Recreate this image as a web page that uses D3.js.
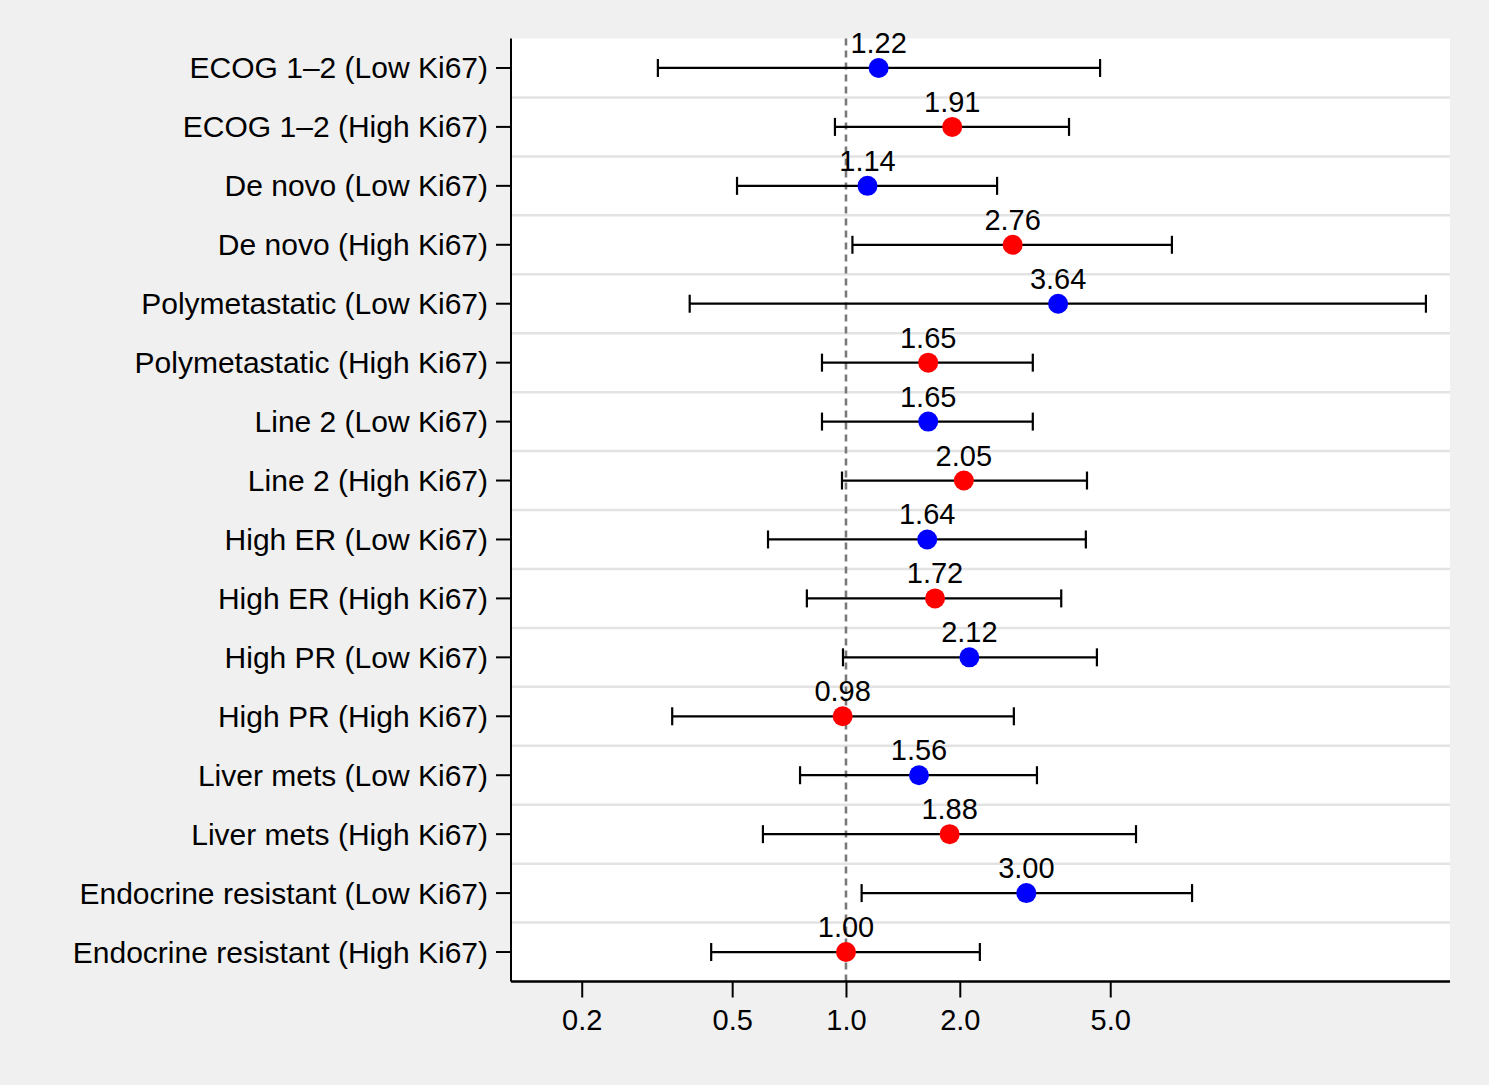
<!DOCTYPE html>
<html><head><meta charset="utf-8">
<script src="https://cdn.jsdelivr.net/npm/d3@7"></script>
<style>body{margin:0;background:#f0f0f0;} svg{display:block;}</style>
</head><body>
<svg id="chart" width="1489" height="1085"></svg>
<script>
const categories = ["ECOG 1–2 (Low Ki67)","ECOG 1–2 (High Ki67)","De novo (Low Ki67)","De novo (High Ki67)",
 "Polymetastatic (Low Ki67)","Polymetastatic (High Ki67)","Line 2 (Low Ki67)","Line 2 (High Ki67)",
 "High ER (Low Ki67)","High ER (High Ki67)","High PR (Low Ki67)","High PR (High Ki67)",
 "Liver mets (Low Ki67)","Liver mets (High Ki67)","Endocrine resistant (Low Ki67)","Endocrine resistant (High Ki67)"];
const hr    = [1.22,1.91,1.14,2.76,3.64,1.65,1.65,2.05,1.64,1.72,2.12,0.98,1.56,1.88,3.00,1.00];
const lower = [0.318,0.935,0.515,1.04,0.386,0.864,0.864,0.976,0.622,0.788,0.982,0.347,0.756,0.603,1.10,0.44];
const upper = [4.70,3.89,2.51,7.28,34.2,3.12,3.12,4.34,4.31,3.71,4.61,2.78,3.20,5.85,8.23,2.26];
const group = ["Low","High","Low","High","Low","High","Low","High","Low","High","Low","High","Low","High","Low","High"];
const xTicks = [0.2,0.5,1.0,2.0,5.0];
const xTickLabels = ["0.2","0.5","1.0","2.0","5.0"];

const data = categories.map((c,i)=>({cat:c,hr:hr[i],lo:lower[i],hi:upper[i],g:group[i]}));
const svg = d3.select("#chart");
const L=511, R=1450, T=38.5, B=981.5;
const font = "'Liberation Sans', Arial, Helvetica, sans-serif";

const x = d3.scaleLog().domain([0.13,39.6]).range([L,R]);
const y = d3.scaleBand().domain(categories).range([T,B]).padding(0);
const yc = c => y(c)+y.bandwidth()/2;

svg.append("rect").attr("x",L).attr("y",T).attr("width",R-L).attr("height",B-T).attr("fill","#ffffff");

// gridlines between rows
svg.append("g").selectAll("line").data(categories.slice(1)).join("line")
  .attr("x1",L).attr("x2",R).attr("y1",d=>y(d)).attr("y2",d=>y(d))
  .attr("stroke","#e3e3e3").attr("stroke-width",2.5);

// reference line at 1
svg.append("line").attr("x1",x(1)).attr("x2",x(1)).attr("y1",T).attr("y2",B)
  .attr("stroke","#7a7a7a").attr("stroke-width",2.6).attr("stroke-dasharray","7,5");

// axes
const yAxis = d3.axisLeft(y).tickSize(15).tickPadding(8);
const gy = svg.append("g").attr("transform",`translate(${L},0)`).call(yAxis);
gy.select(".domain").attr("stroke","#000").attr("stroke-width",2).attr("d",`M0,${T}V${B}`);
gy.selectAll(".tick line").attr("stroke","#000").attr("stroke-width",2);
gy.selectAll(".tick text").attr("font-family",font).attr("font-size",30).attr("fill","#000").attr("dy","0.35em");

const xAxis = d3.axisBottom(x).tickValues(xTicks).tickFormat((d,i)=>xTickLabels[i]).tickSize(16).tickPadding(12);
const gx = svg.append("g").attr("transform",`translate(0,${B})`).call(xAxis);
gx.select(".domain").attr("stroke","#000").attr("stroke-width",2.5).attr("d",`M${L},0H${R}`);
gx.selectAll(".tick line").attr("stroke","#000").attr("stroke-width",2);
gx.selectAll(".tick text").attr("font-family",font).attr("font-size",29).attr("fill","#000");

// error bars
const eb = svg.append("g").selectAll("g").data(data).join("g");
eb.append("line").attr("x1",d=>x(d.lo)).attr("x2",d=>x(d.hi)).attr("y1",d=>yc(d.cat)).attr("y2",d=>yc(d.cat))
  .attr("stroke","#000").attr("stroke-width",2.2);
eb.append("line").attr("x1",d=>x(d.lo)).attr("x2",d=>x(d.lo)).attr("y1",d=>yc(d.cat)-9).attr("y2",d=>yc(d.cat)+9)
  .attr("stroke","#000").attr("stroke-width",2.2);
eb.append("line").attr("x1",d=>x(d.hi)).attr("x2",d=>x(d.hi)).attr("y1",d=>yc(d.cat)-9).attr("y2",d=>yc(d.cat)+9)
  .attr("stroke","#000").attr("stroke-width",2.2);
eb.append("circle").attr("cx",d=>x(d.hr)).attr("cy",d=>yc(d.cat)).attr("r",10)
  .attr("fill",d=>d.g==="Low"?"#0000ff":"#ff0000");
eb.append("text").attr("x",d=>x(d.hr)).attr("y",d=>yc(d.cat)-15).attr("text-anchor","middle")
  .attr("font-family",font).attr("font-size",29).attr("fill","#000").text(d=>d.hr.toFixed(2));
</script>
</body></html>
